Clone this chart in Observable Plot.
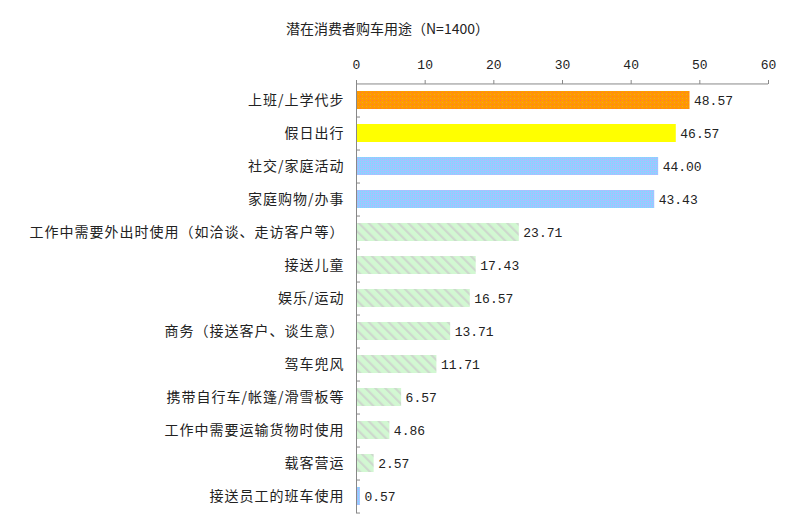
<!DOCTYPE html>
<html><head><meta charset="utf-8">
<script src="https://cdn.jsdelivr.net/npm/d3@7"></script>
<script src="https://cdn.jsdelivr.net/npm/@observablehq/plot@0.6"></script>
<style>
body{margin:0;background:#fff;}
#title{height:44px;box-sizing:border-box;padding-left:286px;padding-top:19px;font:14px/18px "Noto Sans CJK SC";color:#222;}
</style></head><body>
<div id="title">潜在消费者购车用途（N=1400）</div>
<div id="chart"></div>
<script>
const categories = ["上班/上学代步","假日出行","社交/家庭活动","家庭购物/办事","工作中需要外出时使用（如洽谈、走访客户等）","接送儿童","娱乐/运动","商务（接送客户、谈生意）","驾车兜风","携带自行车/帐篷/滑雪板等","工作中需要运输货物时使用","载客营运","接送员工的班车使用"];
const values = [48.57, 46.57, 44.00, 43.43, 23.71, 17.43, 16.57, 13.71, 11.71, 6.57, 4.86, 2.57, 0.57];
const groups = ["orange","yellow","blue","blue","green","green","green","green","green","green","green","green","blue"];
const xTicks = [0, 10, 20, 30, 40, 50, 60];

const rows = categories.map((c, i) => ({category: c, value: values[i], group: groups[i]}));
const fills = {orange: "url(#pOrange)", yellow: "#FFFF00", blue: "url(#pBlue)", green: "url(#pGreen)"};
const W = 800, H = 478, mt = 39, mb = 9, ml = 356, mr = 32;
const step = (H - mt - mb) / categories.length;
const tickLen = 4 * 60 / (W - ml - mr);
const numFont = "Liberation Mono";

const plot = Plot.plot({
  width: W, height: H, marginTop: mt, marginBottom: mb, marginLeft: ml, marginRight: mr,
  style: {fontFamily: "Noto Sans CJK SC", fontSize: "14px", color: "#222", background: "#fff"},
  x: {domain: [0, 60], axis: null},
  y: {domain: categories, paddingInner: 0.45, paddingOuter: 0.225, axis: null},
  marks: [
    Plot.barX(rows, {y: "category", x: "value", fill: d => fills[d.group]}),
    Plot.text(rows, {y: "category", x: "value", text: d => d.value.toFixed(2), textAnchor: "start", dx: 4, fontFamily: numFont, fontSize: 13, fill: "#222"}),
    Plot.axisY({anchor: "left", label: null, tickSize: 0, tickPadding: 12, fontSize: 14, fill: "#222"}),
    Plot.axisX({anchor: "top", label: null, ticks: xTicks, tickSize: 4, tickPadding: 11, stroke: "#888", fontFamily: numFont, fontSize: 13, fill: "#222"}),
    Plot.ruleX([0], {stroke: "#888"}),
    Plot.ruleY([categories[0]], {y: d => d, x1: 0, x2: 60, dy: -step / 2, stroke: "#888"}),
    Plot.ruleY(categories, {y: d => d, x1: 0, x2: tickLen, dy: step / 2, stroke: "#888"})
  ]
});

d3.select(plot).insert("defs", ":first-child").html(`
<pattern id="pGreen" width="7" height="7" patternUnits="userSpaceOnUse" patternTransform="rotate(-45)">
  <rect width="7" height="7" fill="#d2f8d2"/>
  <rect width="2.2" height="7" fill="#cdd8cd"/>
</pattern>
<pattern id="pOrange" width="4" height="4" patternUnits="userSpaceOnUse">
  <rect width="4" height="4" fill="#FF9900"/>
  <rect x="0" y="0" width="1" height="1" fill="#ff7040"/>
  <rect x="2" y="2" width="1" height="1" fill="#f0a030"/>
</pattern>
<pattern id="pBlue" width="2" height="2" patternUnits="userSpaceOnUse">
  <rect width="2" height="2" fill="#99CCFF"/>
  <rect x="1" y="0" width="1" height="1" fill="#b4b4ff"/>
  <rect x="0" y="1" width="1" height="1" fill="#80d8ff"/>
</pattern>`);
d3.select(plot).selectAll('[aria-label="y-axis tick label"] text').style("letter-spacing", "1px");

document.getElementById("chart").appendChild(plot);
</script>
</body></html>
